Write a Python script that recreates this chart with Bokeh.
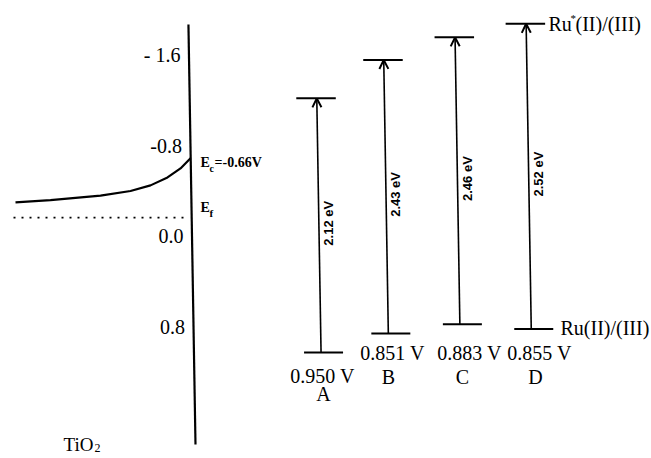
import numpy as np
from bokeh.plotting import figure
from bokeh.models import Range1d, ColumnDataSource, Arrow, OpenHead
from bokeh.core.properties import value
from bokeh.embed import file_html
from bokeh.resources import INLINE

# ---- data ----
dyes = ["A", "B", "C", "D"]
ground_labels = ["0.950 V", "0.851 V", "0.883 V", "0.855 V"]
gap_labels = ["2.12 eV", "2.43 eV", "2.46 eV", "2.52 eV"]
ground_levels = [1.03, 0.86, 0.78, 0.82]        # Ru(II)/(III) level (V)
excited_levels = [-1.22, -1.56, -1.76, -1.88]   # Ru*(II)/(III) level (V)
tick_values = [-1.6, -0.8, 0.0, 0.8]
tick_labels = ["- 1.6", "-0.8", "0.0", "0.8"]
band_x = [7, 42, 92, 122, 142, 159, 172, 182]
band_v = [-0.30, -0.32, -0.36, -0.40, -0.45, -0.52, -0.60, -0.69]
fermi_level = -0.165
ec_text = "=-0.66V"

# ---- layout ----
SERIF = value("Liberation Serif")
SANS = value("Liberation Sans")
tilt = 1.9            # slight skew of the scanned drawing (x units per V)
axis_x0 = 183.5
col_x0 = np.array([310.6, 378.2, 449.9, 521.2])

p = figure(width=651, height=458, output_backend="svg", toolbar_location=None,
           x_range=Range1d(-8, 643), y_range=Range1d(1.967, -2.086),
           min_border=0)
p.axis.visible = False
p.grid.visible = False
p.outline_line_color = None
p.background_fill_color = "white"

# vertical potential axis
ay = np.array([-1.873, 1.843])
p.line(axis_x0 + tilt * ay, ay, line_color="black", line_width=2.2)

# tick labels
tv = np.array(tick_values)
p.text(x=175 + tilt * tv, y=tv, text=tick_labels, text_align="right",
       text_baseline="middle", text_font=SERIF, text_font_size="20px",
       text_color="black")

# TiO2 conduction band curve and Fermi level
p.line(band_x, band_v, line_color="black", line_width=2.2)
p.line([5, 177], [fermi_level, fermi_level], line_color="black",
       line_width=1.6, line_dash="2 6")

# Ec / Ef labels
ec_v = -0.652
p.text(x=[192], y=[ec_v], text=["E"], text_baseline="middle", text_font=SERIF,
       text_font_size="14px", text_font_style="bold")
p.text(x=[201], y=[ec_v + 0.05], text=["c"], text_baseline="middle",
       text_font=SERIF, text_font_size="10px", text_font_style="bold")
p.text(x=[206], y=[ec_v], text=[ec_text], text_baseline="middle",
       text_font=SERIF, text_font_size="14px", text_font_style="bold")
ef_v = -0.254
p.text(x=[192], y=[ef_v], text=["E"], text_baseline="middle", text_font=SERIF,
       text_font_size="14px", text_font_style="bold")
p.text(x=[201], y=[ef_v + 0.05], text=["f"], text_baseline="middle",
       text_font=SERIF, text_font_size="11px", text_font_style="bold")

# dye levels
g = np.array(ground_levels)
e = np.array(excited_levels)
xb = col_x0 + tilt * g
xt = col_x0 + tilt * e
p.segment(x0=xt - 20.5, y0=e, x1=xt + 19, y1=e, line_color="black", line_width=2)
p.segment(x0=xb - 17, y0=g, x1=xb + 22, y1=g, line_color="black", line_width=2)
src = ColumnDataSource(dict(x0=xb, y0=g, x1=xt, y1=e))
p.add_layout(Arrow(end=OpenHead(size=9, line_width=2, line_color="black"),
                   x_start="x0", y_start="y0", x_end="x1", y_end="y1",
                   source=src, line_color="black", line_width=1.6))

# gap labels (rotated)
mid = (g + e) / 2 - 0.02
p.text(x=col_x0 + tilt * mid + 10, y=mid, text=gap_labels, angle=np.pi / 2,
       text_align="center", text_baseline="middle", text_font=SANS,
       text_font_size="13px", text_font_style="bold")

# value labels and dye letters
val_x = [314, 384, 461, 531]
val_y = [1.233, 1.029, 1.029, 1.029]
let_x = [315, 380, 454, 527]
let_y = [1.392, 1.25, 1.25, 1.25]
p.text(x=val_x, y=val_y, text=ground_labels, text_align="center",
       text_baseline="middle", text_font=SERIF, text_font_size="20px")
p.text(x=let_x, y=let_y, text=dyes, text_align="center",
       text_baseline="middle", text_font=SERIF, text_font_size="20px")

# Ru labels
p.text(x=[552], y=[0.81], text=["Ru(II)/(III)"], text_baseline="middle",
       text_font=SERIF, text_font_size="20px")
p.text(x=[540], y=[-1.882], text=["Ru"], text_baseline="middle",
       text_font=SERIF, text_font_size="20px")
p.text(x=[562], y=[-1.935], text=["*"], text_baseline="middle",
       text_font=SERIF, text_font_size="11px")
p.text(x=[567], y=[-1.882], text=["(II)/(III)"], text_baseline="middle",
       text_font=SERIF, text_font_size="20px")

# TiO2 label
p.text(x=[55], y=[1.84], text=["TiO"], text_baseline="alphabetic",
       text_font=SERIF, text_font_size="19px")
p.text(x=[86], y=[1.873], text=["2"], text_baseline="alphabetic",
       text_font=SERIF, text_font_size="12px")

open("out.html", "w").write(file_html(p, INLINE))
